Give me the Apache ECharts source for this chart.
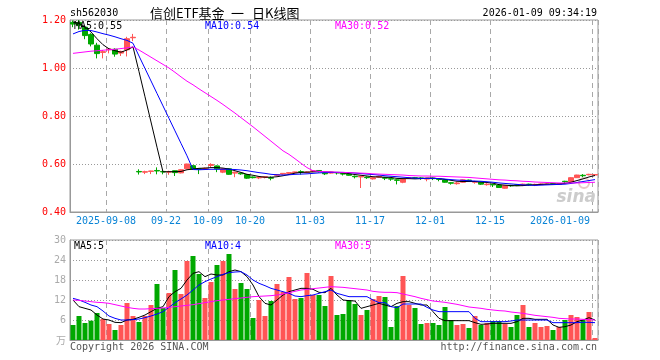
<!DOCTYPE html>
<html>
<head>
<meta charset="utf-8">
<script src="https://cdn.jsdelivr.net/npm/echarts@6.0.0/dist/echarts.min.js"></script>
<style>
html,body{margin:0;padding:0;background:#fff;}
#chart{width:660px;height:360px;}
</style>
</head>
<body>
<div id="chart"></div>
<script>
const categories = ['2025-08-29','2025-09-01','2025-09-02','2025-09-03','2025-09-04','2025-09-05','2025-09-08','2025-09-09','2025-09-10','2025-09-11','2025-09-12',
'2025-09-15','2025-09-16','2025-09-17','2025-09-18','2025-09-19','2025-09-22','2025-09-23','2025-09-24','2025-09-25','2025-09-26',
'2025-09-29','2025-09-30','2025-10-09','2025-10-10','2025-10-13','2025-10-14','2025-10-15','2025-10-16','2025-10-17','2025-10-20',
'2025-10-21','2025-10-22','2025-10-23','2025-10-24','2025-10-27','2025-10-28','2025-10-29','2025-10-30','2025-10-31','2025-11-03',
'2025-11-04','2025-11-05','2025-11-06','2025-11-07','2025-11-10','2025-11-11','2025-11-12','2025-11-13','2025-11-14','2025-11-17',
'2025-11-18','2025-11-19','2025-11-20','2025-11-21','2025-11-24','2025-11-25','2025-11-26','2025-11-27','2025-11-28','2025-12-01',
'2025-12-02','2025-12-03','2025-12-04','2025-12-05','2025-12-08','2025-12-09','2025-12-10','2025-12-11','2025-12-12','2025-12-15',
'2025-12-16','2025-12-17','2025-12-18','2025-12-19','2025-12-22','2025-12-23','2025-12-24','2025-12-25','2025-12-26','2025-12-29',
'2025-12-30','2025-12-31','2026-01-05','2026-01-06','2026-01-07','2026-01-08','2026-01-09'];

const tickDates = ['2025-09-08','2025-09-22','2025-10-09','2025-10-20','2025-11-03','2025-11-17','2025-12-01','2025-12-15','2026-01-09'];
const tickLabels = ['2025-09-08','09-22','10-09','10-20','11-03','11-17','12-01','12-15','2026-01-09'];

const openP = [1.19,1.19,1.17,1.14,1.095,1.065,1.076,1.078,1.062,1.076,1.126,
0.569,0.566,0.569,0.573,0.569,0.566,0.572,0.563,0.58,0.593,
0.58,0.578,0.594,0.592,0.566,0.58,0.562,0.562,0.556,0.546,
0.542,0.544,0.543,0.553,0.558,0.561,0.564,0.568,0.564,0.569,
0.573,0.562,0.562,0.565,0.56,0.558,0.549,0.546,0.545,0.538,
0.545,0.543,0.539,0.534,0.524,0.541,0.543,0.542,0.537,0.541,
0.538,0.534,0.522,0.518,0.524,0.533,0.524,0.524,0.514,0.515,
0.512,0.499,0.511,0.513,0.512,0.516,0.512,0.514,0.515,0.518,
0.515,0.528,0.526,0.543,0.553,0.555,0.554];

const closeP = [1.183,1.178,1.135,1.10,1.06,1.068,1.079,1.058,1.069,1.122,1.128,
0.567,0.568,0.571,0.571,0.567,0.568,0.564,0.576,0.60,0.578,
0.578,0.582,0.598,0.58,0.58,0.557,0.566,0.559,0.541,0.543,
0.546,0.547,0.541,0.556,0.561,0.564,0.567,0.566,0.567,0.572,
0.571,0.559,0.566,0.563,0.558,0.553,0.547,0.549,0.543,0.543,
0.549,0.541,0.537,0.532,0.537,0.543,0.541,0.54,0.541,0.539,
0.536,0.524,0.52,0.521,0.534,0.531,0.527,0.516,0.516,0.513,
0.502,0.51,0.509,0.511,0.516,0.514,0.515,0.517,0.517,0.516,
0.518,0.526,0.543,0.554,0.551,0.557,0.556];

const lowP = [1.17,1.16,1.12,1.09,1.04,1.04,1.061,1.047,1.05,1.048,1.112,
0.556,0.558,0.558,0.557,0.557,0.555,0.55,0.561,0.578,0.575,
0.558,0.575,0.585,0.566,0.562,0.555,0.545,0.555,0.538,0.54,
0.537,0.54,0.532,0.55,0.555,0.555,0.56,0.556,0.562,0.566,
0.565,0.554,0.56,0.556,0.552,0.551,0.54,0.50,0.538,0.535,
0.543,0.533,0.53,0.515,0.52,0.54,0.538,0.534,0.528,0.533,
0.528,0.522,0.514,0.514,0.522,0.527,0.518,0.513,0.51,0.504,
0.501,0.497,0.505,0.508,0.508,0.51,0.508,0.513,0.513,0.514,
0.514,0.52,0.524,0.542,0.545,0.553,0.553];

const highP = [1.198,1.20,1.175,1.145,1.105,1.075,1.082,1.082,1.072,1.13,1.142,
0.578,0.572,0.572,0.586,0.572,0.572,0.573,0.578,0.601,0.595,
0.582,0.585,0.603,0.594,0.582,0.582,0.568,0.564,0.558,0.548,
0.548,0.549,0.548,0.557,0.562,0.566,0.568,0.574,0.569,0.573,
0.575,0.564,0.567,0.566,0.562,0.56,0.552,0.551,0.548,0.545,
0.551,0.546,0.54,0.536,0.538,0.546,0.546,0.545,0.542,0.543,
0.54,0.536,0.524,0.526,0.536,0.535,0.53,0.526,0.52,0.517,
0.514,0.511,0.513,0.515,0.518,0.518,0.518,0.519,0.519,0.52,
0.52,0.53,0.545,0.555,0.558,0.559,0.557];

const ma5 = [1.192,1.186,1.172,1.15,1.122,1.097,1.08,1.072,1.066,1.075,1.088,
0.985,0.88,0.775,0.67,0.567,0.568,0.568,0.569,0.576,0.579,
0.582,0.583,0.585,0.585,0.583,0.579,0.572,0.565,0.557,0.553,
0.548,0.545,0.545,0.547,0.551,0.556,0.562,0.565,0.566,0.567,
0.568,0.567,0.566,0.564,0.563,0.56,0.556,0.553,0.55,0.547,
0.546,0.545,0.544,0.54,0.539,0.539,0.538,0.539,0.541,0.541,
0.539,0.536,0.532,0.528,0.527,0.527,0.527,0.525,0.523,0.52,
0.514,0.512,0.51,0.509,0.51,0.512,0.513,0.515,0.516,0.516,
0.517,0.519,0.524,0.531,0.538,0.546,0.552];

const ma10 = [1.142,1.152,1.157,1.156,1.15,1.143,1.137,1.13,1.122,1.115,1.103,
1.05,0.998,0.946,0.894,0.842,0.79,0.738,0.686,0.634,0.577,
0.576,0.577,0.578,0.578,0.578,0.578,0.577,0.575,0.572,0.568,
0.564,0.561,0.557,0.555,0.554,0.555,0.557,0.558,0.559,0.561,
0.563,0.564,0.565,0.565,0.565,0.564,0.562,0.56,0.558,0.556,
0.554,0.551,0.549,0.547,0.545,0.543,0.541,0.54,0.54,0.54,
0.539,0.537,0.535,0.533,0.532,0.53,0.529,0.528,0.526,0.524,
0.521,0.519,0.517,0.515,0.513,0.512,0.511,0.512,0.513,0.514,
0.515,0.516,0.519,0.523,0.527,0.531,0.535];

const ma30 = [1.061,1.064,1.067,1.07,1.072,1.074,1.076,1.078,1.081,1.084,1.088,
1.075,1.06,1.045,1.03,1.015,1.0,0.982,0.963,0.945,0.93,
0.913,0.897,0.881,0.865,0.848,0.83,0.812,0.793,0.774,0.755,
0.735,0.715,0.695,0.675,0.655,0.64,0.622,0.603,0.585,0.572,
0.569,0.568,0.567,0.566,0.565,0.564,0.563,0.562,0.561,0.559,
0.558,0.557,0.556,0.555,0.554,0.552,0.551,0.55,0.55,0.549,
0.549,0.548,0.547,0.546,0.545,0.544,0.542,0.54,0.538,0.536,
0.534,0.533,0.531,0.53,0.528,0.527,0.525,0.524,0.523,0.522,
0.521,0.521,0.521,0.521,0.522,0.523,0.524];

const volume = [4.5,7.2,5.1,5.8,8.1,6.3,4.8,3.0,4.5,11.1,7.2,
5.4,7.2,10.5,16.8,9.6,14.1,21.0,13.8,23.7,25.2,
19.8,12.6,17.4,22.5,23.7,25.8,15.3,17.1,15.3,6.6,
12.0,7.2,11.7,16.8,14.4,18.9,12.3,12.6,20.1,13.5,
13.5,10.2,19.2,7.5,7.8,12.0,10.8,7.5,9.0,12.3,
13.2,12.9,3.9,10.2,19.2,10.5,9.6,4.8,5.1,5.1,
4.5,9.9,6.0,4.5,4.8,3.6,7.2,4.5,5.1,5.7,
5.7,4.8,3.9,7.5,10.5,3.9,5.1,3.9,4.2,3.0,
3.9,6.0,7.5,6.9,6.0,8.4,0.6];

const volMa5 = [12,10,9.5,9,7.5,6.3,6,5.3,5.2,6,6.2,
6.8,7.5,8.5,9.5,10,13,14.5,15.5,18,20,
20.5,19,19.8,19.5,19.5,20.5,21,20.5,19,16.5,
13,11,10.5,12,13.5,14.5,15,15.5,15.5,15.2,
14.3,14.2,15.5,13.5,12,11.8,11.7,9.5,10,10.5,
11,10.5,10,11,11.5,11.5,11,10.5,10.5,8.5,
6.5,5.8,5.8,5.8,5.8,5.8,5.2,4.7,4.8,5,
5,5,5,5.5,6.5,6.5,6.2,6.2,6.2,4.5,
3.8,4,4.5,5.5,6,6.7,6];

const volMa10 = [12.5,12,11.3,10.5,10,8.7,7.2,6.5,6,6,6.1,
6.3,6.7,7.2,7.8,8.5,9.8,11.2,12.3,13.5,15,
16.5,17.5,18.3,19,19.7,20.2,20.4,20.5,19.5,18,
17,16.3,15.5,15,14.5,14,13.2,13,13.3,13.5,
14,14.5,15,14,13.5,13,13,13,13,12,
11.2,11.2,10,9.7,10.8,10.8,10.8,10.8,9.8,9,
8.5,8.5,8.5,8.5,8.5,8.5,6.5,5.5,5.5,5.5,
5.5,5.5,5.7,6,6,6,6,6,6,5.2,
5.2,5.2,5.2,5.2,5.3,5.3,5.2];

const volMa30 = [12,11.9,11.7,11.5,11.3,11.2,11,10.6,10.2,9.8,9.5,
9.3,9.3,9.4,9.5,9.6,9.8,10,10.2,10.4,10.6,
10.9,11.2,11.5,11.8,12,12.2,12.4,12.6,12.8,13,
13.1,13.2,13.3,13.5,13.8,14.2,14.6,15,15.2,15.4,
15.6,15.8,16,15.9,15.8,15.6,15.4,15.2,15,14.6,
14.4,14.3,14.3,14.2,13.8,13.4,13,12.5,12.1,11.7,
11.5,11.3,11,10.7,10.3,9.9,9.7,9.5,9.2,9,
8.8,8.7,8.4,8.2,8,7.7,7.4,7.2,7,6.8,
6.5,6.4,6.3,6.3,6.2,6.1,6];

const RED = '#ff5555';
const GREEN = '#00a800';
const MONO = "'DejaVu Sans Mono', monospace";
const CJK = "'Noto Sans CJK SC', sans-serif";
const GRIDC = '#a8a8a8';

const isTick = (i, v) => tickDates.indexOf(v) >= 0;

const chart = echarts.init(document.getElementById('chart'), null, {renderer: 'canvas'});

const xCommon = {
  type: 'category',
  data: categories,
  boundaryGap: true,
  axisLine: {show: true, lineStyle: {color: '#999', width: 1}},
  axisTick: {show: false},
  splitLine: {show: true, interval: isTick, lineStyle: {color: GRIDC, width: 1, type: [5, 4]}}
};

function txt(x, y, text, fill, font, align, z) {
  return {type: 'text', x: x, y: y, z: z || 10, style: {text: text, fill: fill, font: font, align: align || 'left', verticalAlign: 'middle'}};
}

const option = {
  animation: false,
  backgroundColor: '#ffffff',
  grid: [
    {left: 70, top: 20, width: 528, height: 192, show: true, borderColor: '#999', borderWidth: 1, backgroundColor: 'transparent'},
    {left: 70, top: 240, width: 528, height: 100, show: true, borderColor: '#999', borderWidth: 1, backgroundColor: 'transparent'}
  ],
  xAxis: [
    Object.assign({}, xCommon, {
      gridIndex: 0,
      axisLabel: {
        show: true,
        interval: isTick,
        margin: 4,
        color: '#0a84d6',
        fontFamily: MONO,
        fontSize: 10,
        formatter: function (v) {
          const k = tickDates.indexOf(v);
          if (k < 0) return '';
          if (k === tickDates.length - 1) return '{e|' + tickLabels[k] + '}';
          return '{a|' + tickLabels[k] + '}';
        },
        rich: {
          a: {color: '#0a84d6', fontFamily: MONO, fontSize: 10, padding: [0, 6, 0, 0]},
          e: {color: '#0a84d6', fontFamily: MONO, fontSize: 10, padding: [0, 70, 0, 0]}
        }
      }
    }),
    Object.assign({}, xCommon, {gridIndex: 1, axisLabel: {show: false}})
  ],
  yAxis: [
    {
      type: 'value', gridIndex: 0, min: 0.4, max: 1.2, interval: 0.2,
      axisLine: {show: true, lineStyle: {color: '#999'}},
      axisTick: {show: false},
      axisLabel: {color: '#ff0000', fontFamily: MONO, fontSize: 10, margin: 4, formatter: v => v.toFixed(2)},
      splitLine: {show: true, lineStyle: {color: '#999', width: 1, type: [1, 2]}}
    },
    {
      type: 'value', gridIndex: 1, min: 0, max: 30, interval: 6,
      axisLine: {show: true, lineStyle: {color: '#999'}},
      axisTick: {show: false},
      axisLabel: {color: '#aaaaaa', fontFamily: MONO, fontSize: 10, margin: 4, formatter: v => v === 0 ? '' : String(v)},
      splitLine: {show: true, lineStyle: {color: '#999', width: 1, type: [1, 2]}}
    }
  ],
  series: [
    {
      name: 'K', type: 'candlestick', xAxisIndex: 0, yAxisIndex: 0, barWidth: 5, z: 2,
      data: openP.map((o, i) => [o, closeP[i], lowP[i], highP[i]]),
      itemStyle: {color: RED, color0: GREEN, borderColor: RED, borderColor0: GREEN, borderWidth: 1}
    },
    {name: 'MA5', type: 'line', xAxisIndex: 0, yAxisIndex: 0, data: ma5, showSymbol: false, symbol: 'none', z: 3, lineStyle: {color: '#000', width: 1}},
    {name: 'MA10', type: 'line', xAxisIndex: 0, yAxisIndex: 0, data: ma10, showSymbol: false, symbol: 'none', z: 3, lineStyle: {color: '#0000ff', width: 1}},
    {name: 'MA30', type: 'line', xAxisIndex: 0, yAxisIndex: 0, data: ma30, showSymbol: false, symbol: 'none', z: 3, lineStyle: {color: '#ff00ff', width: 1}},
    {
      name: 'VOL', type: 'bar', xAxisIndex: 1, yAxisIndex: 1, barWidth: 5, z: 2,
      data: volume.map((v, i) => ({value: v, itemStyle: {color: closeP[i] >= openP[i] ? RED : GREEN}}))
    },
    {name: 'VMA5', type: 'line', xAxisIndex: 1, yAxisIndex: 1, data: volMa5, showSymbol: false, symbol: 'none', z: 3, lineStyle: {color: '#000', width: 1}},
    {name: 'VMA10', type: 'line', xAxisIndex: 1, yAxisIndex: 1, data: volMa10, showSymbol: false, symbol: 'none', z: 3, lineStyle: {color: '#0000ff', width: 1}},
    {name: 'VMA30', type: 'line', xAxisIndex: 1, yAxisIndex: 1, data: volMa30, showSymbol: false, symbol: 'none', z: 3, lineStyle: {color: '#ff00ff', width: 1}}
  ],
  graphic: [
    txt(70, 13, 'sh562030', '#000', '10px ' + MONO),
    txt(150, 13, '信创ETF基金', '#000', '13px ' + CJK),
    txt(231, 13, '一', '#000', '13px ' + CJK),
    txt(252, 13, '日K线图', '#000', '13px ' + CJK),
    txt(597, 13, '2026-01-09 09:34:19', '#000', '10px ' + MONO, 'right'),
    txt(74, 26, 'MA5:0.55', '#000', '10px ' + MONO),
    txt(205, 26, 'MA10:0.54', '#0000ff', '10px ' + MONO),
    txt(335, 26, 'MA30:0.52', '#ff00ff', '10px ' + MONO),
    txt(74, 246, 'MA5:5', '#000', '10px ' + MONO),
    txt(205, 246, 'MA10:4', '#0000ff', '10px ' + MONO),
    txt(335, 246, 'MA30:5', '#ff00ff', '10px ' + MONO),
    txt(66, 340, '万', '#aaaaaa', '10px ' + CJK, 'right'),
    txt(70, 347, 'Copyright 2026 SINA.COM', '#555', '10px ' + MONO),
    txt(597, 347, 'http://finance.sina.com.cn', '#555', '10px ' + MONO, 'right'),
    txt(596, 198, 'sina', '#cccccc', "italic bold 17px 'DejaVu Sans', sans-serif", 'right', 1),
    {type: 'circle', shape: {cx: 584, cy: 183, r: 5}, z: 1, style: {fill: 'none', stroke: '#e8c8c8', lineWidth: 2}}
  ]
};

chart.setOption(option);
</script>
</body>
</html>
